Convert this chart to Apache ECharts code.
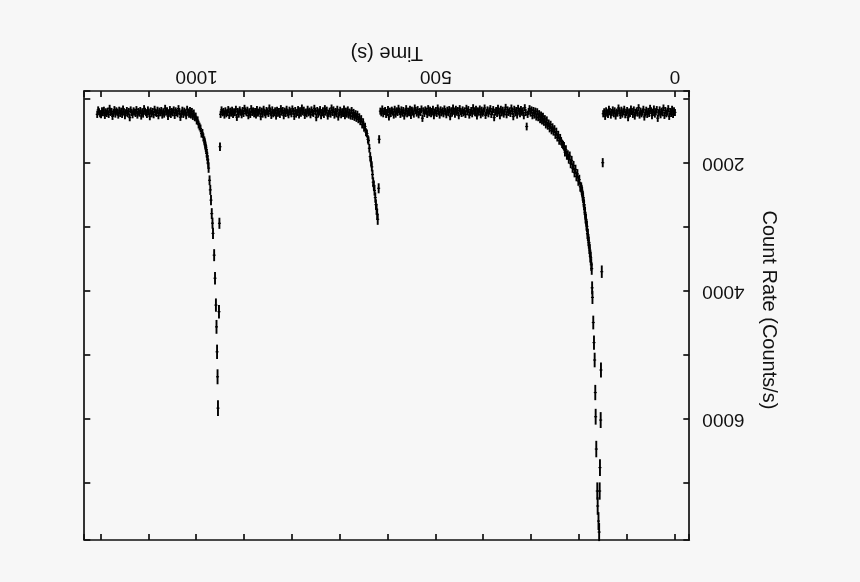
<!DOCTYPE html>
<html>
<head>
<meta charset="utf-8">
<script src="https://cdn.jsdelivr.net/npm/echarts@6/dist/echarts.min.js"></script>
<style>
html,body{margin:0;padding:0;background:#f7f7f7;overflow:hidden;}
#c{width:860px;height:582px;transform:rotate(180deg);transform-origin:50% 50%;}
</style>
</head>
<body>
<div id="c"></div>
<script>
// ---------------- DATA (time in s, count rate in counts/s) ----------------
var xTickLabels = [0, 500, 1000];
var yTickLabels = [2000, 4000, 6000];

// quiescent segment before flare 1 : t = 0..150, step 2 s
var segA_start = 0, segA_step = 2;
var segA = [1210,1185,1240,1160,1225,1195,1270,1150,1205,1230,
1180,1255,1140,1215,1190,1245,1170,1220,1300,1165,
1200,1235,1155,1210,1260,1185,1145,1225,1195,1240,
1175,1215,1280,1160,1205,1230,1190,1250,1135,1220,
1185,1210,1265,1170,1240,1195,1155,1225,1205,1290,
1180,1215,1245,1160,1200,1235,1175,1255,1190,1140,
1220,1205,1265,1185,1230,1170,1210,1250,1195,1160,
1240,1215,1185,1270,1200,1230];

// flare 1 rise and fast decay (irregular samples)
var flare1T = [151,153,154.7,155.3,156.8,157.4,158.5,159.9,161.6,162.4,164.5,165.8,166.6,167.9,169.3,170.8,172.5,173.2];
var flare1C = [1995,3698,5234,6016,6758,7125,7766,7594,7359,7125,6469,5964,5586,5078,4805,4492,4100,3950];

// flare 1 decay, t = 174..196, step 1 s
var segB1_start = 174, segB1_step = 1;
var segB1 = [3650,3590,3480,3460,3360,3330,3240,3210,3120,3100,2990,2970,2880,2860,2770,2730,2650,2610,2540,2510,2450,2420,2380];

// flare 1 tail, t = 198..300, step 2 s
var segB2_start = 198, segB2_step = 2;
var segB2 = [2370,2260,2280,2170,2210,2100,2150,2040,2080,1960,
2010,1890,1940,1870,1880,1790,1830,1740,1720,1700,
1660,1610,1650,1560,1600,1510,1560,1470,1510,1440,
1490,1400,1460,1380,1420,1330,1400,1310,1360,1270,
1340,1250,1320,1230,1290,1200,1280,1190,1250,1180,
1260,1170];

// quiescent, t = 302..616, step 2 s
var segB3_start = 302, segB3_step = 2;
var segB3 = [1220,1150,1195,1240,1430,1210,1135,1260,1185,1205,
1165,1230,1190,1145,1250,1180,1215,1160,1275,1195,
1140,1225,1185,1210,1170,1245,1130,1200,1235,1175,
1215,1160,1260,1190,1145,1225,1180,1205,1290,1165,
1200,1240,1150,1185,1230,1170,1210,1255,1140,1195,
1220,1175,1245,1155,1205,1185,1265,1160,1215,1190,
1135,1230,1180,1210,1250,1165,1200,1145,1240,1185,
1215,1170,1225,1195,1150,1260,1180,1205,1160,1235,
1190,1140,1220,1185,1275,1165,1210,1175,1245,1200,
1155,1230,1185,1215,1170,1250,1195,1140,1225,1180,
1205,1260,1160,1195,1230,1175,1215,1150,1240,1190,
1170,1225,1185,1300,1155,1210,1195,1245,1165,1220,
1180,1140,1235,1200,1175,1255,1160,1215,1190,1230,
1150,1205,1265,1180,1220,1170,1240,1195,1145,1210,
1185,1235,1160,1250,1200,1175,1225,1190,1280,1165,
1210,1240,1180,1195,1230,1155,1215,1190];

// flare 2 rise and decay (irregular samples)
var flare2T = [618.5,619.5,621.5,622.6,623.8,625.2,626.6,628.2,629.6,631,632.4,633.8,635.4,637.2,639,640.8];
var flare2C = [1630,2395,2880,2800,2720,2650,2540,2430,2350,2300,2180,2060,1980,1900,1770,1650];

// flare 2 tail and quiescent, t = 642..950, step 2 s
var segC_start = 642, segC_step = 2;
var segC = [1630,1540,1520,1430,1450,1360,1400,1310,1350,1280,
1320,1240,1300,1230,1285,1210,1270,1180,1265,1205,
1250,1170,1235,1190,1260,1155,1225,1200,1245,1175,
1215,1280,1160,1230,1195,1250,1170,1210,1140,1235,
1190,1225,1265,1175,1205,1150,1240,1185,1215,1260,
1165,1200,1235,1180,1290,1195,1145,1225,1210,1170,
1245,1190,1215,1160,1230,1205,1255,1175,1200,1140,
1220,1185,1250,1165,1210,1235,1180,1270,1195,1155,
1230,1200,1175,1245,1215,1160,1225,1190,1260,1180,
1205,1150,1240,1195,1220,1175,1265,1185,1210,1230,
1170,1255,1195,1140,1225,1200,1180,1245,1215,1160,
1235,1190,1275,1175,1205,1220,1165,1250,1195,1230,
1185,1210,1150,1240,1200,1260,1175,1215,1190,1145,
1225,1180,1245,1205,1170,1235,1195,1285,1160,1215,
1200,1240,1175,1220,1190,1255,1165,1210,1230,1185,
1250,1195,1215,1170,1240];

// flare 3 rise and fast decay (irregular samples)
var flare3T = [951.3,952.5,953.4,955.5,956.4,957.4,958.6,959.8,961.7,963.5,965.9,967,968.5,970.1,971.6,973.1,975.1];
var flare3C = [1745,2942,4323,5830,5340,4950,4560,4220,3800,3440,3100,2940,2790,2580,2420,2270,2080];

// flare 3 decay, t = 976..984, step 1 s
var segD1_start = 976, segD1_step = 1;
var segD1 = [2000,1950,1890,1850,1790,1760,1720,1680,1650];

// flare 3 tail and quiescent, t = 986..1208, step 2 s
var segD2_start = 986, segD2_step = 2;
var segD2 = [1600,1530,1540,1460,1430,1400,1330,1340,1270,1290,
1220,1270,1195,1250,1180,1235,1205,1160,1260,1215,
1190,1240,1175,1225,1285,1200,1150,1230,1210,1185,
1255,1170,1215,1195,1240,1165,1220,1270,1185,1205,
1145,1235,1200,1250,1180,1215,1190,1260,1175,1225,
1210,1160,1245,1195,1230,1185,1275,1205,1170,1240,
1215,1190,1150,1235,1200,1265,1180,1220,1195,1250,
1165,1225,1205,1185,1245,1210,1170,1290,1195,1230,
1180,1215,1260,1200,1155,1240,1190,1225,1175,1250,
1205,1185,1235,1165,1220,1270,1195,1210,1145,1240,
1190,1225,1200,1255,1175,1215,1185,1245,1230,1200,
1170,1240];

// ---------------- BUILD ----------------
function seq(start, step, vals) { return vals.map(function (v, i) { return [start + i * step, v]; }); }
function pairs(ts, cs) { return ts.map(function (t, i) { return [t, cs[i]]; }); }

var points = [].concat(
  seq(segA_start, segA_step, segA),
  pairs(flare1T, flare1C),
  seq(segB1_start, segB1_step, segB1),
  seq(segB2_start, segB2_step, segB2),
  seq(segB3_start, segB3_step, segB3),
  pairs(flare2T, flare2C),
  seq(segC_start, segC_step, segC),
  pairs(flare3T, flare3C),
  seq(segD1_start, segD1_step, segD1),
  seq(segD2_start, segD2_step, segD2)
);

var FONT = 'Liberation Sans, Arial, Helvetica, sans-serif';
var INK = '#111';
var X_MIN = -30, X_MAX = 1235, Y_MIN = 875, Y_MAX = 7890;

function axisCommon() {
  return {
    type: 'value',
    axisLine: { show: true, onZero: false, lineStyle: { color: INK, width: 1.7 } },
    axisTick: { show: true, inside: true, length: 6, lineStyle: { color: INK, width: 1.7 } },
    splitLine: { show: false },
    minorTick: { show: false }
  };
}

var xBottom = Object.assign(axisCommon(), {
  position: 'bottom', min: X_MIN, max: X_MAX, minInterval: 100, maxInterval: 100, splitNumber: 13,
  name: 'Time (s)', nameLocation: 'middle', nameGap: 25,
  nameTextStyle: { fontFamily: FONT, fontSize: 20, color: INK },
  axisLabel: { margin: 5, fontFamily: FONT, fontSize: 19, color: INK,
    formatter: function (v) { return xTickLabels.indexOf(Math.round(v)) >= 0 && Math.abs(v - Math.round(v)) < 1e-6 ? String(Math.round(v)) : ''; } }
});
var xTop = Object.assign(axisCommon(), {
  position: 'top', min: X_MIN, max: X_MAX, minInterval: 100, maxInterval: 100, splitNumber: 13,
  axisLabel: { show: false }
});
var yLeft = Object.assign(axisCommon(), {
  position: 'left', min: Y_MIN, max: Y_MAX, minInterval: 1000, maxInterval: 1000, splitNumber: 7,
  name: 'Count Rate (Counts/s)', nameLocation: 'middle', nameGap: 69, nameRotate: 90,
  nameTextStyle: { fontFamily: FONT, fontSize: 20, color: INK, padding: [0, 11, 0, 0] },
  axisLabel: { margin: 13, fontFamily: FONT, fontSize: 19, color: INK,
    formatter: function (v) { return yTickLabels.indexOf(Math.round(v)) >= 0 && Math.abs(v - Math.round(v)) < 1e-6 ? String(Math.round(v)) : ''; } }
});
var yRight = Object.assign(axisCommon(), {
  position: 'right', min: Y_MIN, max: Y_MAX, minInterval: 1000, maxInterval: 1000, splitNumber: 7,
  axisLabel: { show: false }
});

var ERR_K = 1.6;
var chart = echarts.init(document.getElementById('c'), null, { renderer: 'canvas' });
chart.setOption({
  backgroundColor: '#f7f7f7',
  animation: false,
  grid: { left: 170.7, right: 84.3, top: 42, bottom: 91, containLabel: false },
  xAxis: [xBottom, xTop],
  yAxis: [yLeft, yRight],
  series: [{
    type: 'custom',
    xAxisIndex: 0, yAxisIndex: 0,
    progressive: 0,
    encode: { x: 0, y: 1 },
    data: points,
    renderItem: function (params, api) {
      var t = api.value(0), c = api.value(1);
      var e = ERR_K * Math.sqrt(c);
      var p0 = api.coord([t, c - e]);
      var p1 = api.coord([t, c + e]);
      var pc = api.coord([t, c]);
      return { type: 'group', children: [
        { type: 'line', shape: { x1: p0[0], y1: p0[1], x2: p1[0], y2: p1[1] }, style: { stroke: '#000', lineWidth: 1.9 } },
        { type: 'line', shape: { x1: pc[0] - 1.5, y1: pc[1], x2: pc[0] + 1.5, y2: pc[1] }, style: { stroke: '#000', lineWidth: 1.2 } }
      ] };
    }
  }]
});
</script>
</body>
</html>
